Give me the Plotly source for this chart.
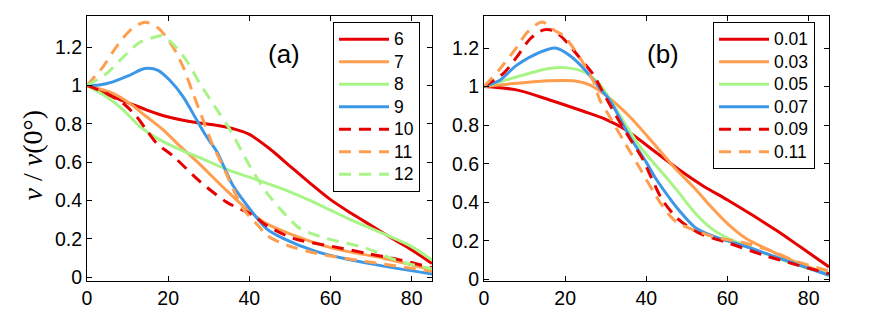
import plotly.graph_objects as go

# ---------------- data: panel (a) ----------------
a_names = ["6", "7", "8", "9", "10", "11", "12"]
a6_x = [0, 6.4, 10.5, 14.6, 19.6, 25.3, 31.1, 36.8, 40, 45, 50, 55, 60, 65, 70, 75, 80, 85]
a6_y = [1, 0.941, 0.907, 0.873, 0.838, 0.812, 0.795, 0.77, 0.745, 0.67, 0.58, 0.49, 0.405, 0.335, 0.27, 0.205, 0.143, 0.072]
a7_x = [0, 6.4, 10.5, 14.6, 18.7, 22.9, 27.8, 34.4, 39.3, 44.2, 50.8, 60.7, 73, 85]
a7_y = [1, 0.959, 0.907, 0.838, 0.77, 0.684, 0.589, 0.452, 0.357, 0.28, 0.22, 0.151, 0.1, 0.04]
a8_x = [0, 4.8, 8.9, 13, 17.1, 22.9, 27.8, 34.4, 40, 45, 50, 55, 60, 65, 70, 75, 80, 85]
a8_y = [1, 0.941, 0.873, 0.787, 0.727, 0.666, 0.624, 0.563, 0.522, 0.485, 0.446, 0.40, 0.35, 0.30, 0.255, 0.21, 0.16, 0.09]
a9_x = [0, 3, 6.4, 10.5, 14.2, 17.5, 20.4, 23.7, 27, 29.4, 31.9, 36, 40.1, 44.2, 48.3, 56.6, 68.9, 85]
a9_y = [1, 1.003, 1.019, 1.053, 1.088, 1.079, 1.027, 0.941, 0.821, 0.735, 0.658, 0.477, 0.357, 0.254, 0.203, 0.134, 0.074, 0.018]
a10_x = [0, 4.8, 8.9, 12.2, 14.6, 17.1, 21.2, 27.8, 34.4, 40.9, 44.2, 50.8, 60.7, 68.9, 77.1, 85]
a10_y = [1, 0.959, 0.907, 0.838, 0.77, 0.70, 0.632, 0.50, 0.392, 0.323, 0.271, 0.203, 0.16, 0.125, 0.091, 0.05]
a11_x = [0, 3.9, 7.2, 10.5, 14.2, 17.5, 21.2, 23.7, 26.1, 28.6, 31.1, 33.5, 38.5, 42.6, 44.2, 49.2, 56.6, 68.9, 85]
a11_y = [1, 1.096, 1.2, 1.285, 1.33, 1.30, 1.2, 1.096, 0.96, 0.82, 0.684, 0.58, 0.357, 0.26, 0.22, 0.168, 0.125, 0.082, 0.032]
a12_x = [0, 4.8, 8.9, 13, 17.1, 18.5, 21.2, 24.5, 27.8, 31.5, 35.2, 40.1, 44.2, 48.3, 52.5, 59, 68.9, 77.1, 85]
a12_y = [1, 1.062, 1.147, 1.225, 1.254, 1.26, 1.216, 1.13, 1.01, 0.89, 0.77, 0.58, 0.443, 0.34, 0.254, 0.203, 0.151, 0.082, 0.045]

# ---------------- data: panel (b) ----------------
b_names = ["0.01", "0.03", "0.05", "0.07", "0.09", "0.11"]
b1_x = [0, 8, 16, 24.5, 30, 35, 42, 48, 54, 60, 66, 72, 78, 85]
b1_y = [1, 0.983, 0.932, 0.872, 0.83, 0.775, 0.665, 0.57, 0.485, 0.412, 0.335, 0.255, 0.168, 0.065]
b3_x = [0, 8, 16, 22, 26, 30, 35.8, 41.6, 46.5, 52, 56, 60.4, 64.5, 72.7, 78, 85]
b3_y = [1, 1.017, 1.03, 1.03, 1.009, 0.955, 0.846, 0.71, 0.59, 0.47, 0.376, 0.282, 0.214, 0.128, 0.08, 0.028]
b5_x = [0, 8, 16, 20.5, 24.5, 28.6, 32.6, 38.3, 44.9, 48, 52, 56, 60, 64, 68.6, 76.8, 85]
b5_y = [1, 1.05, 1.094, 1.097, 1.077, 1.009, 0.88, 0.692, 0.53, 0.45, 0.345, 0.265, 0.215, 0.18, 0.14, 0.077, 0.028]
b7_x = [0, 4, 8, 14, 17.6, 21.2, 25.3, 28.6, 30.9, 35.8, 40, 42.4, 46.5, 48, 52, 56, 60, 64.5, 72.7, 85]
b7_y = [1, 1.034, 1.11, 1.18, 1.2, 1.16, 1.077, 0.99, 0.932, 0.744, 0.607, 0.521, 0.40, 0.36, 0.27, 0.228, 0.2, 0.171, 0.111, 0.022]
b9_x = [0, 4.8, 8.1, 11.4, 14.7, 17.1, 19.6, 23.7, 27, 29, 32.6, 35.8, 39.1, 41.2, 44, 48, 53, 60.4, 68.6, 76.8, 85]
b9_y = [1, 1.069, 1.154, 1.248, 1.294, 1.29, 1.248, 1.146, 1.06, 0.983, 0.846, 0.735, 0.624, 0.53, 0.41, 0.31, 0.24, 0.188, 0.128, 0.077, 0.03]
b11_x = [0, 4, 8.1, 10.6, 14.3, 17.5, 19.6, 23.7, 27, 28.5, 30.9, 34.2, 38.3, 41.6, 44, 47.3, 56.3, 64.5, 71.1, 76.8, 85]
b11_y = [1, 1.094, 1.205, 1.28, 1.335, 1.29, 1.265, 1.146, 1.026, 0.932, 0.846, 0.726, 0.58, 0.46, 0.38, 0.3, 0.223, 0.188, 0.146, 0.095, 0.044]

x_ticks = [0, 20, 40, 60, 80]
x_ticktext = ["0", "20", "40", "60", "80"]
y_ticks = [0, 0.2, 0.4, 0.6, 0.8, 1.0, 1.2]
y_ticktext = ["0", "0.2", "0.4", "0.6", "0.8", "1", "1.2"]

RED = "#e60000"
ORANGE = "#ff9e4f"
GREEN = "#a8f487"
BLUE = "#3d97e8"
DASH = "12px,8px"

a_series = [
    (a6_x, a6_y, RED, "solid"),
    (a7_x, a7_y, ORANGE, "solid"),
    (a8_x, a8_y, GREEN, "solid"),
    (a9_x, a9_y, BLUE, "solid"),
    (a10_x, a10_y, RED, DASH),
    (a11_x, a11_y, ORANGE, DASH),
    (a12_x, a12_y, GREEN, DASH),
]
b_series = [
    (b1_x, b1_y, RED, "solid"),
    (b3_x, b3_y, ORANGE, "solid"),
    (b5_x, b5_y, GREEN, "solid"),
    (b7_x, b7_y, BLUE, "solid"),
    (b9_x, b9_y, RED, DASH),
    (b11_x, b11_y, ORANGE, DASH),
]


def legend_label(s):
    return '<span style="font-size:17.5px">' + s + '</span>'


fig = go.Figure()
for name, (xs, ys, col, dash) in zip(a_names, a_series):
    fig.add_trace(go.Scatter(x=xs, y=ys, mode="lines", name=legend_label(name),
                             line=dict(color=col, width=3, dash=dash, shape="spline", smoothing=0.8),
                             xaxis="x", yaxis="y", legend="legend"))
for name, (xs, ys, col, dash) in zip(b_names, b_series):
    fig.add_trace(go.Scatter(x=xs, y=ys, mode="lines", name=legend_label(name),
                             line=dict(color=col, width=3, dash=dash, shape="spline", smoothing=0.8),
                             xaxis="x2", yaxis="y2", legend="legend2"))

# The page body has an 8px margin, so the figure is 8px smaller than the window.
OFF = 8
W, H = 872 - OFF, 316 - OFF
L, R, T, B = 87 - OFF, 43, 15 - OFF, 33
pw = W - L - R
ph = H - T - B

axis_common = dict(showline=True, linecolor="black", linewidth=1, mirror="ticks",
                   ticks="inside", ticklen=5, tickcolor="black", tickwidth=1,
                   showgrid=False, zeroline=False,
                   tickfont=dict(family="Liberation Sans, Arial, sans-serif", size=19.5, color="black"))

leg_font = dict(family="Liberation Sans, Arial, sans-serif", size=15, color="black")

fig.update_layout(
    width=W, height=H,
    margin=dict(l=L, r=R, t=T, b=B),
    paper_bgcolor="white", plot_bgcolor="white",
    xaxis=dict(domain=[0, 345 / pw], range=[0, 85], tickvals=x_ticks, ticktext=x_ticktext,
               anchor="y", **axis_common),
    yaxis=dict(domain=[0, 1], range=[-0.019, 1.362], tickvals=y_ticks, ticktext=y_ticktext,
               anchor="x", **axis_common),
    xaxis2=dict(domain=[397 / pw, 1], range=[0, 85], tickvals=x_ticks, ticktext=x_ticktext,
                anchor="y2", **axis_common),
    yaxis2=dict(domain=[0, 1], range=[-0.008, 1.366], tickvals=y_ticks, ticktext=y_ticktext,
                anchor="x2", **axis_common),
    legend=dict(x=(333 - OFF - L) / pw, y=(H - B - (21 - OFF)) / ph, xanchor="left", yanchor="top",
                bordercolor="black", borderwidth=1, bgcolor="white", itemwidth=50,
                font=leg_font, tracegroupgap=0),
    legend2=dict(x=(713 - OFF - L) / pw, y=(H - B - (21 - OFF)) / ph, xanchor="left", yanchor="top",
                 bordercolor="black", borderwidth=1, bgcolor="white", itemwidth=50,
                 font=leg_font, tracegroupgap=0),
    annotations=[
        dict(text="(a)", x=48.6, y=1.164, xref="x", yref="y", showarrow=False,
             xanchor="center", yanchor="middle",
             font=dict(family="Liberation Sans, Arial, sans-serif", size=26, color="black")),
        dict(text="(b)", x=44.2, y=1.168, xref="x2", yref="y2", showarrow=False,
             xanchor="center", yanchor="middle",
             font=dict(family="Liberation Sans, Arial, sans-serif", size=26, color="black")),
        dict(text="<i>v</i> / <i>v</i>(0°)", x=(32 - OFF - L) / pw, y=(H - B - (156 - OFF)) / ph,
             xref="paper", yref="paper",
             showarrow=False, textangle=-90, xanchor="center", yanchor="middle",
             font=dict(family="Liberation Serif, DejaVu Serif, serif", size=28, color="black")),
    ],
)

fig.write_html("out.html")
